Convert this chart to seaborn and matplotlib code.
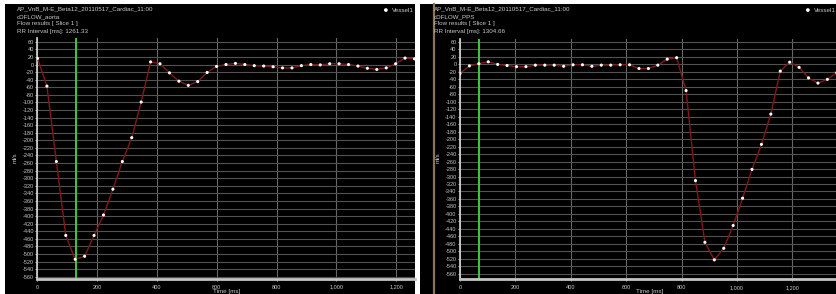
import matplotlib
matplotlib.use("Agg")
import matplotlib.pyplot as plt
import seaborn as sns
import pandas as pd
from matplotlib.ticker import FuncFormatter
from matplotlib.patches import Rectangle
from matplotlib.lines import Line2D

# ---------------- data ----------------
left_time = [0, 31.5, 63.1, 94.6, 126.1, 157.7, 189.2, 220.7, 252.3, 283.8, 315.3,
             346.8, 378.4, 409.9, 441.4, 473.0, 504.5, 536.0, 567.6, 599.1, 630.7,
             662.2, 693.7, 725.2, 756.8, 788.3, 819.8, 851.4, 882.9, 914.4, 946.0,
             977.5, 1009.1, 1040.6, 1072.1, 1103.7, 1135.2, 1166.7, 1198.3, 1229.8, 1261.3]
left_flow = [16, -57, -256, -451, -514, -506, -451, -397, -329, -256, -193,
             -99, 7, 2, -22, -44, -55, -45, -21, -5, 0,
             3, 0, -3, -4, -6, -9, -9, -3, 0, -1,
             2, 2, 0, -4, -10, -13, -9, 2, 17, 15]

right_time = [0, 34, 68, 102, 136, 170, 204, 238, 272, 306, 340, 374, 408, 442,
              476, 510, 544, 578, 612, 646, 680, 714, 748, 782, 816, 850, 884,
              918, 952, 986, 1020, 1054, 1088, 1122, 1156, 1190, 1224, 1258,
              1292, 1326, 1360]
right_flow = [-24, -4, 2, 7, 0, -3, -6, -6, -2, -2, -2, -5, -1, -1,
              -5, -2, -2, -1, -1, -11, -11, -2, 14, 18, -70, -311, -476,
              -523, -492, -431, -358, -281, -214, -133, -18, 6, -8, -36,
              -50, -40, -22]

left_marker = 128
right_marker = 67

left_title = ["AP_VnB_M-E_Beta12_20110517_Cardiac_11:00", "cDFLOW_aorta",
              "Flow results [ Slice 1 ]", "RR Interval [ms]: 1261.33"]
right_title = ["AP_VnB_M-E_Beta12_20110517_Cardiac_11:00", "cDFLOW_PPS",
               "Flow results [ Slice 1 ]", "RR Interval [ms]: 1304.66"]
series_name = "Vessel1"
x_ticks = [0, 200, 400, 600, 800, 1000, 1200]
y_ticks = list(range(-560, 61, 20))

# ---------------- figure ----------------
W, H = 837, 294
plt.rcParams['font.family'] = ['Liberation Sans', 'DejaVu Sans']
fig = plt.figure(figsize=(W / 100, H / 100), dpi=100, facecolor='white')

TXT = '#c8c8c8'

def fx(px):
    return px / W

def fy(py):
    return 1 - py / H

# black panel backgrounds (drawn below the axes)
fig.patches.append(Rectangle((fx(5), 0), fx(415.5) - fx(5), fy(4), transform=fig.transFigure,
                             facecolor='black', edgecolor='none', zorder=-5))
fig.patches.append(Rectangle((fx(420), 0), 1 - fx(420), fy(4), transform=fig.transFigure,
                             facecolor='black', edgecolor='none', zorder=-5))
sep = Line2D([fx(434), fx(434)], [0, fy(4)], transform=fig.transFigure,
             color='#8c7352', lw=1.6, zorder=-4)
fig.add_artist(sep)


def make_panel(rect_px, time, flow, marker, xlim, ylim, title, title_x, leg_right):
    x0, y0, x1, y1 = rect_px
    ax = fig.add_axes([fx(x0), fy(y1), fx(x1) - fx(x0), (y1 - y0) / H])
    ax.set_facecolor('black')
    df = pd.DataFrame({'Time': time, 'Flow': flow})
    ax.set_axisbelow(True)
    ax.grid(True, axis='y', color='#525252', lw=0.8)
    ax.grid(True, axis='x', color='#666666', lw=0.8)
    ax.axvline(marker, color='#3ec83e', lw=1.4, zorder=2)
    sns.lineplot(data=df, x='Time', y='Flow', ax=ax, color='#801818', lw=1.0,
                 sort=False, legend=False, zorder=3)
    sns.scatterplot(data=df, x='Time', y='Flow', ax=ax, color='white', s=5,
                    edgecolor='none', label=series_name, zorder=4)
    ax.set_xlim(*xlim)
    ax.set_ylim(*ylim)
    ax.set_xticks(x_ticks)
    ax.set_yticks(y_ticks)
    ax.xaxis.set_major_formatter(FuncFormatter(lambda v, p: f"{int(v):,}"))
    ax.yaxis.set_major_formatter(FuncFormatter(lambda v, p: f"{int(v)}"))
    ax.tick_params(axis='both', colors=TXT, labelsize=4, length=1.5, width=0.6, pad=1)
    ax.tick_params(axis='x', pad=2.5)
    for s in ['top', 'right']:
        ax.spines[s].set_visible(False)
    ax.spines['left'].set_color('#d8d8d8')
    ax.spines['left'].set_linewidth(1.2)
    ax.spines['bottom'].set_color('#c4c4c4')
    ax.spines['bottom'].set_linewidth(2.0)
    ax.set_xlabel('')
    ax.set_ylabel('')
    ax.legend(loc='center right',
              bbox_to_anchor=(fx(leg_right), fy(10)), bbox_transform=fig.transFigure,
              frameon=False, fontsize=4.5, labelcolor=TXT, borderpad=0,
              borderaxespad=0, handletextpad=0.6, handlelength=0.8, markerscale=1.2)
    for i, line in enumerate(title):
        fig.text(fx(title_x), fy(9 + 7.5 * i), line, color=TXT, fontsize=4.5,
                 va='center', ha='left')
    fig.text(fx(x0 - 22), fy(158), 'ml/s', color=TXT, fontsize=4.2, rotation=90,
             va='center', ha='center')
    fig.text(fx((x0 + x1) / 2), fy(291), 'Time [ms]', color=TXT, fontsize=4.5,
             va='center', ha='center')
    return ax


make_panel((37.5, 38, 415, 279), left_time, left_flow, left_marker,
           (0, 1263), (-566, 70), left_title, 17, 414)
make_panel((460, 39, 839, 279.3), right_time, right_flow, right_marker,
           (0, 1368), (-575, 68), right_title, 434, 836)

fig.savefig('out.png', dpi=100, facecolor=fig.get_facecolor())
